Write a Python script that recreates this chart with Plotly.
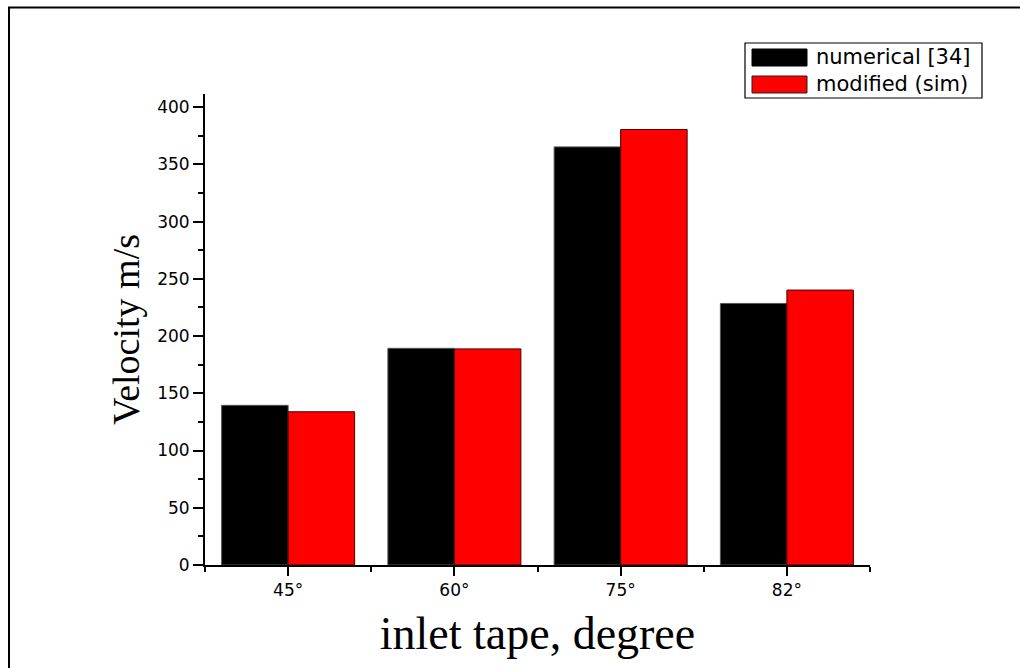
import plotly.graph_objects as go

# Inlet taper angle categories and outlet velocity (m/s)
categories = ["45°", "60°", "75°", "82°"]
numerical = [139.5, 189.3, 365.3, 228.5]
modified = [133.9, 188.8, 380.5, 240.2]
series_names = ["numerical [34]", "modified (sim)"]
series_colors = ["#000000", "#ff0000"]
series_edges = ["#555555", "#4a0000"]
y_ticks = [0, 50, 100, 150, 200, 250, 300, 350, 400]

W, H = 1020, 668
L, R, T, B = 205, 150, 94, 103
pw, ph = W - L - R, H - T - B


def px(x):
    return (x - L) / pw


def py(y):
    return (H - B - y) / ph


xs = list(range(len(categories)))
fig = go.Figure()
for name, vals, col, edge in zip(series_names, [numerical, modified], series_colors, series_edges):
    fig.add_trace(go.Bar(
        x=xs, y=vals, name=name,
        marker=dict(color=col, line=dict(color=edge, width=1)),
        showlegend=False,
    ))

sans = "DejaVu Sans"
fig.update_layout(
    width=W, height=H,
    margin=dict(l=L, r=R, t=T, b=B),
    paper_bgcolor="white", plot_bgcolor="white",
    barmode="group", bargap=0.2, bargroupgap=0,
    xaxis=dict(
        range=[-0.5, 3.5], showgrid=False, zeroline=False,
        showline=True, linecolor="black", linewidth=2,
        tickmode="array", tickvals=xs, ticktext=categories,
        ticks="outside", ticklen=9, tickwidth=2, tickcolor="black",
        minor=dict(tickmode="array", tickvals=[-0.5, 0.5, 1.5, 2.5, 3.5],
                   ticks="outside", ticklen=5, tickwidth=1.5, tickcolor="black"),
        tickfont=dict(family=sans, size=17, color="black"),
        title=dict(text="inlet tape, degree", standoff=17,
                   font=dict(family="Liberation Serif", size=46, color="black")),
    ),
    yaxis=dict(
        range=[0, 411.5], showgrid=False, zeroline=False,
        showline=True, linecolor="black", linewidth=2,
        tickmode="array", tickvals=y_ticks,
        ticks="outside", ticklen=10, tickwidth=2, tickcolor="black",
        minor=dict(dtick=25, ticks="outside", ticklen=5, tickwidth=1.5, tickcolor="black"),
        tickfont=dict(family=sans, size=17, color="black"),
        title=dict(text="Velocity m/s", standoff=6,
                   font=dict(family="Liberation Serif", size=38, color="black")),
    ),
)

# Outer frame around the figure
fig.add_shape(type="rect", xref="paper", yref="paper",
              x0=px(9), y0=py(690), x1=px(1040), y1=py(7.5),
              line=dict(color="black", width=2), fillcolor="rgba(0,0,0,0)", layer="above")

# Legend box with wide swatches
fig.add_shape(type="rect", xref="paper", yref="paper",
              x0=px(745), x1=px(982), y0=py(98), y1=py(43),
              line=dict(color="black", width=1.2), fillcolor="white", layer="above")
row_y = [57.5, 84.5]
for name, col, edge, ry in zip(series_names, series_colors, series_edges, row_y):
    fig.add_shape(type="rect", xref="paper", yref="paper",
                  x0=px(752), x1=px(807), y0=py(ry + 8.5), y1=py(ry - 8.5),
                  line=dict(color="#222222" if col != "#000000" else "#000000", width=1),
                  fillcolor=col, layer="above")
    fig.add_annotation(xref="paper", yref="paper", x=px(814), y=py(ry),
                       text=name, showarrow=False, xanchor="left", yanchor="middle",
                       font=dict(family=sans, size=21, color="black"))

fig.write_html("out.html")
